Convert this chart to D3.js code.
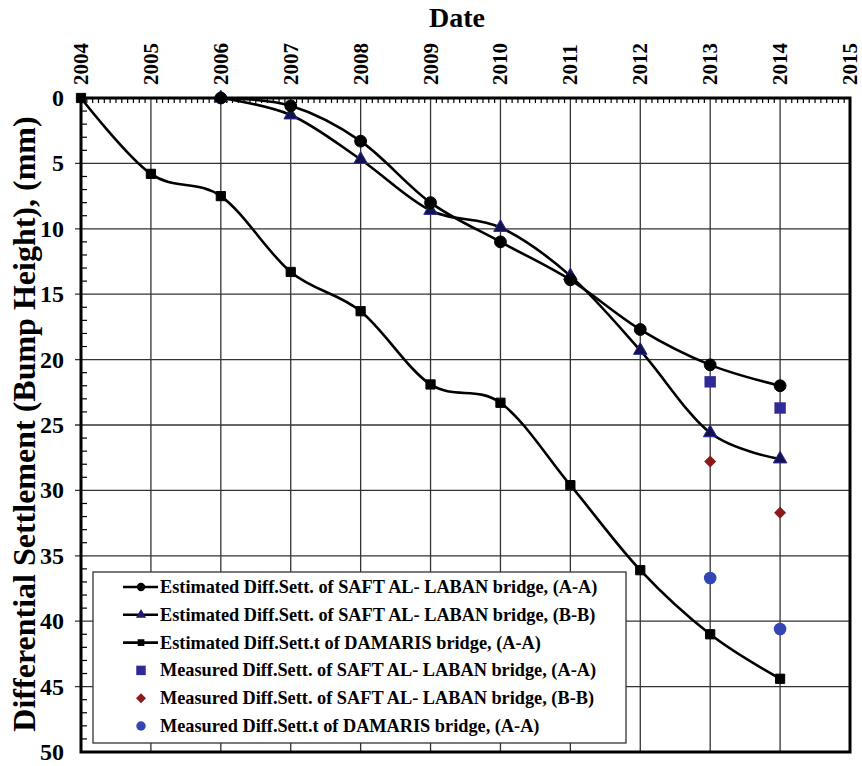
<!DOCTYPE html>
<html>
<head>
<meta charset="utf-8">
<script src="https://cdn.jsdelivr.net/npm/d3@7"></script>
<style>
  body { margin: 0; background: #fff; }
  text { font-family: "Liberation Serif", "Times New Roman", serif; font-weight: bold; }
</style>
</head>
<body>
<script>
// ---- data ----
var years = [2004, 2005, 2006, 2007, 2008, 2009, 2010, 2011, 2012, 2013, 2014, 2015];
var yTicks = [0, 5, 10, 15, 20, 25, 30, 35, 40, 45, 50];

var saftAYears = [2006, 2007, 2008, 2009, 2010, 2011, 2012, 2013, 2014];
var saftAEst   = [0, 0.6, 3.3, 8.0, 11.0, 13.9, 17.7, 20.4, 22.0];

var saftBYears = [2006, 2007, 2008, 2009, 2010, 2011, 2012, 2013, 2014];
var saftBEst   = [0, 1.3, 4.7, 8.6, 9.9, 13.6, 19.3, 25.6, 27.6];

var damYears = [2004, 2005, 2006, 2007, 2008, 2009, 2010, 2011, 2012, 2013, 2014];
var damEst   = [0, 5.8, 7.5, 13.3, 16.3, 21.9, 23.3, 29.6, 36.1, 41.0, 44.4];

var measYears = [2013, 2014];
var saftAMeas = [21.7, 23.7];
var saftBMeas = [27.8, 31.7];
var damMeas   = [36.7, 40.6];

var legendLabels = [
  "Estimated Diff.Sett. of SAFT AL- LABAN bridge, (A-A)",
  "Estimated Diff.Sett. of SAFT AL- LABAN bridge, (B-B)",
  "Estimated Diff.Sett.t of DAMARIS bridge, (A-A)",
  "Measured Diff.Sett. of SAFT AL- LABAN bridge, (A-A)",
  "Measured Diff.Sett. of SAFT AL- LABAN bridge, (B-B)",
  "Measured Diff.Sett.t of DAMARIS bridge, (A-A)"
];

var width = 862, height = 766;
var pLeft = 81, pRight = 850, pTop = 98, pBottom = 752;

var svg = d3.select("body").append("svg")
    .attr("width", width)
    .attr("height", height);

var x = d3.scaleLinear().domain([2004, 2015]).range([pLeft, pRight]);
var y = d3.scaleLinear().domain([0, 50]).range([pTop, pBottom]);

function zip(xs, ys) {
  return xs.map(function (v, i) { return [v, ys[i]]; });
}

// gridlines
svg.append("g").selectAll("line")
    .data(years.slice(1, -1))
    .enter().append("line")
    .attr("x1", function (d) { return x(d); })
    .attr("x2", function (d) { return x(d); })
    .attr("y1", pTop).attr("y2", pBottom)
    .attr("stroke", "#333").attr("stroke-width", 1.3);

svg.append("g").selectAll("line")
    .data(yTicks.slice(1, -1))
    .enter().append("line")
    .attr("x1", pLeft - 6).attr("x2", pRight)
    .attr("y1", function (d) { return y(d); })
    .attr("y2", function (d) { return y(d); })
    .attr("stroke", "#333").attr("stroke-width", 1.3);

// minor ticks: months on top, 1 mm on left
var months = d3.range(2004, 2015, 1 / 12).filter(function (d) { return Math.abs(d - Math.round(d)) > 0.01; });
svg.append("g").selectAll("line")
    .data(months)
    .enter().append("line")
    .attr("x1", function (d) { return x(d); })
    .attr("x2", function (d) { return x(d); })
    .attr("y1", pTop).attr("y2", pTop + 5)
    .attr("stroke", "#000").attr("stroke-width", 1.2);

var mm = d3.range(1, 50).filter(function (d) { return d % 5 !== 0; });
svg.append("g").selectAll("line")
    .data(mm)
    .enter().append("line")
    .attr("x1", pLeft).attr("x2", pLeft + 6)
    .attr("y1", function (d) { return y(d); })
    .attr("y2", function (d) { return y(d); })
    .attr("stroke", "#000").attr("stroke-width", 1.2);

// frame
svg.append("rect")
    .attr("x", pLeft).attr("y", pTop)
    .attr("width", pRight - pLeft).attr("height", pBottom - pTop)
    .attr("fill", "none").attr("stroke", "#000").attr("stroke-width", 3);

// top axis labels (rotated)
svg.append("g").selectAll("text")
    .data(years)
    .enter().append("text")
    .attr("transform", function (d) { return "translate(" + (x(d) + 7) + "," + (pTop - 13) + ") rotate(-90)"; })
    .attr("font-size", 21)
    .text(function (d) { return d; });

// left axis labels
svg.append("g").selectAll("text")
    .data(yTicks)
    .enter().append("text")
    .attr("x", pLeft - 17)
    .attr("y", function (d) { return y(d) + 8; })
    .attr("text-anchor", "end")
    .attr("font-size", 24)
    .text(function (d) { return d; });

// titles
svg.append("text")
    .attr("x", 457).attr("y", 27)
    .attr("text-anchor", "middle")
    .attr("font-size", 28)
    .text("Date");

svg.append("text")
    .attr("transform", "translate(35,424) rotate(-90)")
    .attr("text-anchor", "middle")
    .attr("font-size", 32)
    .text("Differential Settlement (Bump Height), (mm)");

// curves
var line = d3.line()
    .x(function (d) { return x(d[0]); })
    .y(function (d) { return y(d[1]); })
    .curve(d3.curveCatmullRom.alpha(0));

var estSeries = [
  { pts: zip(damYears, damEst), shape: d3.symbolSquare, size: 85, fill: "#000", stroke: "#000" },
  { pts: zip(saftBYears, saftBEst), shape: d3.symbolTriangle, size: 80, fill: "#14124a", stroke: "#2a2a9a" },
  { pts: zip(saftAYears, saftAEst), shape: d3.symbolCircle, size: 110, fill: "#000", stroke: "#000" }
];

estSeries.forEach(function (s) {
  svg.append("path")
      .datum(s.pts)
      .attr("d", line)
      .attr("fill", "none")
      .attr("stroke", "#000")
      .attr("stroke-width", 2.6);
});

estSeries.forEach(function (s) {
  svg.append("g").selectAll("path")
      .data(s.pts)
      .enter().append("path")
      .attr("transform", function (d) { return "translate(" + x(d[0]) + "," + y(d[1]) + ")"; })
      .attr("d", d3.symbol().type(s.shape).size(s.size))
      .attr("fill", s.fill)
      .attr("stroke", s.stroke)
      .attr("stroke-width", 1);
});

// measured points (diamond = square turned 45 degrees)
var measSeries = [
  { vals: saftAMeas, shape: d3.symbolSquare, size: 130, fill: "#302a96", rot: 0 },
  { vals: saftBMeas, shape: d3.symbolSquare, size: 72, fill: "#8c1a1a", rot: 45 },
  { vals: damMeas, shape: d3.symbolCircle, size: 125, fill: "#3346b4", rot: 0 }
];

measSeries.forEach(function (s) {
  svg.append("g").selectAll("path")
      .data(zip(measYears, s.vals))
      .enter().append("path")
      .attr("transform", function (d) { return "translate(" + x(d[0]) + "," + y(d[1]) + ") rotate(" + s.rot + ")"; })
      .attr("d", d3.symbol().type(s.shape).size(s.size))
      .attr("fill", s.fill);
});

// legend
var lg = svg.append("g");
lg.append("rect")
    .attr("x", 93).attr("y", 572)
    .attr("width", 533).attr("height", 171)
    .attr("fill", "#fff").attr("stroke", "#333").attr("stroke-width", 1.3);

var legendMarks = [
  { shape: d3.symbolCircle, size: 55, fill: "#000", line: true, rot: 0 },
  { shape: d3.symbolTriangle, size: 45, fill: "#1e1a70", line: true, rot: 0 },
  { shape: d3.symbolSquare, size: 45, fill: "#000", line: true, rot: 0 },
  { shape: d3.symbolSquare, size: 90, fill: "#302a96", line: false, rot: 0 },
  { shape: d3.symbolSquare, size: 50, fill: "#8c1a1a", line: false, rot: 45 },
  { shape: d3.symbolCircle, size: 70, fill: "#3346b4", line: false, rot: 0 }
];

legendLabels.forEach(function (lab, i) {
  var cy = 587 + i * 27.8;
  var m = legendMarks[i];
  if (m.line) {
    lg.append("line")
        .attr("x1", 123).attr("x2", 158)
        .attr("y1", cy).attr("y2", cy)
        .attr("stroke", "#000").attr("stroke-width", 2.6);
  }
  lg.append("path")
      .attr("transform", "translate(141," + cy + ") rotate(" + m.rot + ")")
      .attr("d", d3.symbol().type(m.shape).size(m.size))
      .attr("fill", m.fill);
  lg.append("text")
      .attr("x", 160).attr("y", cy + 6)
      .attr("font-size", 18.3)
      .text(lab);
});
</script>
</body>
</html>
